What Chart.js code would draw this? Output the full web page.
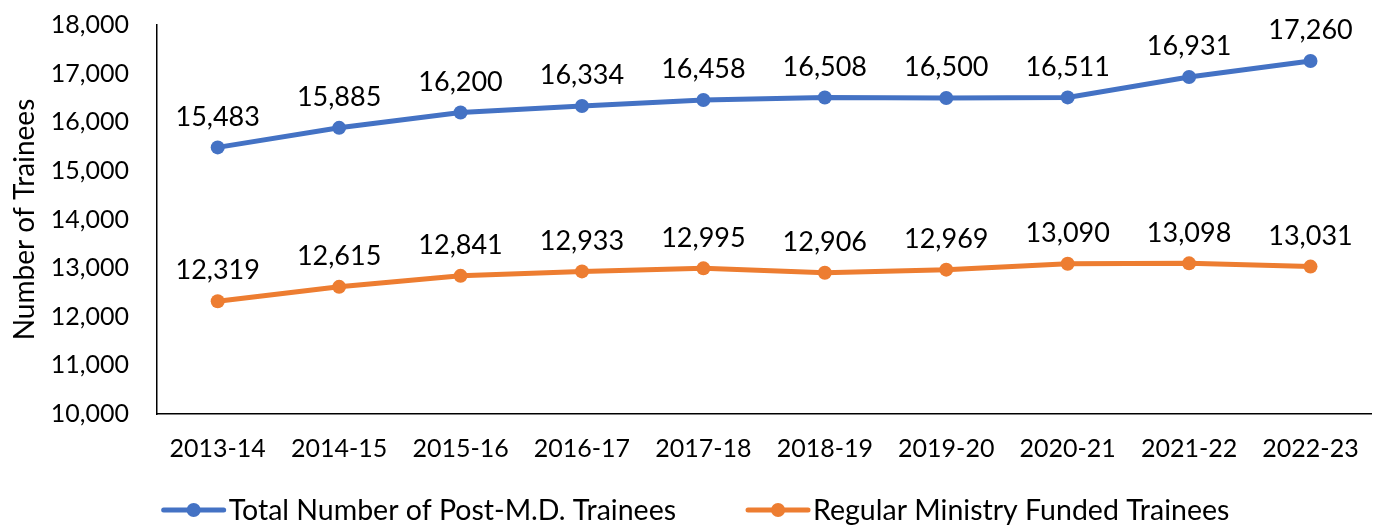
<!DOCTYPE html>
<html>
<head>
<meta charset="utf-8">
<script src="https://cdn.jsdelivr.net/npm/chart.js@4/dist/chart.umd.min.js"></script>
<style>
  html, body { margin: 0; padding: 0; background: #fff; }
  #wrap { width: 1379px; height: 525px; position: relative; }
</style>
</head>
<body>
<div id="wrap"><canvas id="traineesChart"></canvas></div>
<script>
const years = ['2013-14', '2014-15', '2015-16', '2016-17', '2017-18', '2018-19', '2019-20', '2020-21', '2021-22', '2022-23'];
const totalTrainees = [15483, 15885, 16200, 16334, 16458, 16508, 16500, 16511, 16931, 17260];
const ministryFunded = [12319, 12615, 12841, 12933, 12995, 12906, 12969, 13090, 13098, 13031];
const yTicks = [10000, 11000, 12000, 13000, 14000, 15000, 16000, 17000, 18000];

const FONT = 'Lato, "Liberation Sans", sans-serif';
const BLUE = '#4472C4';
const ORANGE = '#ED7D31';

const valueLabels = {
    id: 'valueLabels',
    afterDatasetsDraw(chart) {
        const ctx = chart.ctx;
        ctx.save();
        ctx.font = '27px ' + FONT;
        ctx.fillStyle = '#000';
        ctx.textAlign = 'center';
        ctx.textBaseline = 'bottom';
        chart.data.datasets.forEach((ds, i) => {
            chart.getDatasetMeta(i).data.forEach((pt, j) => {
                ctx.fillText(ds.data[j].toLocaleString('en-US'), pt.x, pt.y - 17);
            });
        });
        ctx.restore();
    },
};

// bottom legend with line + dot markers
const lineLegend = {
    id: 'lineLegend',
    afterDraw(chart) {
        const ctx = chart.ctx;
        const markerW = 64;
        const gapText = 3;
        const gapItem = 70;
        const y = 510;
        ctx.save();
        ctx.font = '28.5px ' + FONT;
        ctx.textBaseline = 'middle';
        ctx.textAlign = 'left';
        const items = chart.data.datasets.map(ds => ({
            text: ds.label,
            color: ds.borderColor,
            w: markerW + gapText + ctx.measureText(ds.label).width,
        }));
        const total = items.reduce((s, it) => s + it.w, 0) + gapItem * (items.length - 1);
        let x = chart.width / 2 - total / 2 + 6;
        items.forEach(it => {
            ctx.strokeStyle = it.color;
            ctx.lineWidth = 5;
            ctx.lineCap = 'round';
            ctx.beginPath();
            ctx.moveTo(x + 2, y);
            ctx.lineTo(x + markerW - 2, y);
            ctx.stroke();
            ctx.fillStyle = it.color;
            ctx.beginPath();
            ctx.arc(x + markerW / 2, y, 7, 0, Math.PI * 2);
            ctx.fill();
            ctx.fillStyle = '#000';
            ctx.fillText(it.text, x + markerW + gapText, y + 1);
            x += it.w + gapItem;
        });
        ctx.restore();
    },
};

new Chart(document.getElementById('traineesChart'), {
    type: 'line',
    data: {
        labels: years,
        datasets: [
            {
                label: 'Total Number of Post-M.D. Trainees',
                data: totalTrainees,
                borderColor: BLUE,
                backgroundColor: BLUE,
                borderWidth: 5,
                pointRadius: 7,
                pointHoverRadius: 7,
                pointBorderWidth: 0,
                tension: 0,
            },
            {
                label: 'Regular Ministry Funded Trainees',
                data: ministryFunded,
                borderColor: ORANGE,
                backgroundColor: ORANGE,
                borderWidth: 5,
                pointRadius: 7,
                pointHoverRadius: 7,
                pointBorderWidth: 0,
                tension: 0,
            },
        ],
    },
    options: {
        responsive: true,
        maintainAspectRatio: false,
        animation: false,
        layout: {
            padding: { top: 25, right: 4, bottom: 41, left: 0 },
        },
        plugins: {
            legend: { display: false },
            tooltip: { enabled: false },
        },
        scales: {
            x: {
                offset: true,
                grid: { display: false, drawTicks: false },
                border: { display: true, color: '#000', width: 1.5 },
                ticks: {
                    color: '#000',
                    padding: 20,
                    font: { family: FONT, size: 25 },
                    maxRotation: 0,
                },
            },
            y: {
                min: 10000,
                max: 18000,
                grid: { display: false, drawTicks: false },
                border: { display: true, color: '#000', width: 1.5 },
                afterBuildTicks(axis) {
                    axis.ticks = yTicks.map(v => ({ value: v }));
                },
                afterFit(axis) {
                    axis.width = 157;
                    axis.paddingTop = 0;
                    axis.paddingBottom = 0;
                },
                ticks: {
                    color: '#000',
                    padding: 28,
                    font: { family: FONT, size: 25 },
                    callback: v => v.toLocaleString('en-US'),
                },
                title: {
                    display: true,
                    text: 'Number of Trainees',
                    color: '#000',
                    padding: { top: 8, bottom: 9 },
                    font: { family: FONT, size: 28 },
                },
            },
        },
    },
    plugins: [valueLabels, lineLegend],
});
</script>
</body>
</html>
